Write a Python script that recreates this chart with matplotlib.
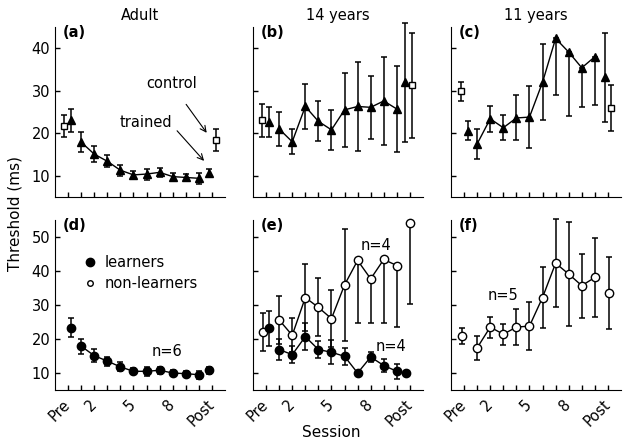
import matplotlib
matplotlib.use("Agg")
import matplotlib.pyplot as plt
from matplotlib.lines import Line2D

# ------------------------
# Data
# ------------------------
sessions = list(range(1, 11))

# (a) adults, trained / control
adult_trained = [17.9, 15.1, 13.4, 11.3, 10.2, 10.4, 10.8, 9.8, 9.6, 9.4]
adult_trained_err = [2.4, 1.9, 1.4, 1.3, 1.0, 1.3, 1.0, 0.8, 0.8, 1.3]
adult_trained_pre, adult_trained_pre_err = 23.0, 2.8
adult_trained_post, adult_trained_post_err = 10.6, 1.0
adult_control = [21.6, 18.4]          # pre, post
adult_control_err = [2.6, 2.5]

# (b) 14 years
y14_trained = [21.0, 18.0, 26.3, 22.8, 20.8, 25.5, 26.3, 26.1, 27.6, 25.7]
y14_trained_err = [3.9, 3.0, 5.2, 4.7, 4.7, 8.7, 10.5, 7.4, 10.4, 10.2]
y14_trained_pre, y14_trained_pre_err = 22.6, 3.6
y14_trained_post, y14_trained_post_err = 32.0, 14.0
y14_control = [23.0, 31.3]
y14_control_err = [3.8, 12.4]

# (c) 11 years
y11_trained = [17.5, 23.4, 21.3, 23.6, 23.8, 32.0, 42.3, 39.1, 35.4, 38.0]
y11_trained_lo = [3.6, 3.0, 3.0, 5.3, 7.2, 9.0, 13.4, 15.0, 9.3, 11.3]
y11_trained_hi = [3.6, 3.0, 3.0, 5.3, 7.2, 9.0, 0.0, 0.0, 0.0, 0.0]
y11_trained_pre, y11_trained_pre_err = 20.6, 2.3
y11_trained_post, y11_trained_post_err = 33.2, 10.5
y11_control = [29.9, 25.9]
y11_control_err = [2.2, 5.4]

# (d) adults, learners
adult_learn = [17.9, 15.1, 13.5, 11.8, 10.5, 10.5, 10.8, 10.0, 9.8, 9.5]
adult_learn_err = [2.2, 2.0, 1.3, 1.3, 0.9, 1.3, 1.0, 0.8, 0.8, 1.2]
adult_learn_pre, adult_learn_pre_err = 23.3, 2.8
adult_learn_post, adult_learn_post_err = 10.8, 1.0

# (e) 14 years, learners / non-learners
y14_learn = [16.9, 15.4, 20.7, 16.9, 16.1, 14.9, 10.0, 14.7, 12.2, 10.5]
y14_learn_err = [3.2, 2.5, 4.0, 2.5, 3.5, 2.5, 0.5, 1.5, 2.0, 2.2]
y14_learn_pre, y14_learn_pre_err = 23.1, 5.2
y14_learn_post, y14_learn_post_err = 10.0, 0.5
y14_nonlearn = [25.6, 21.1, 32.2, 29.3, 26.0, 35.9, 43.1, 37.7, 43.4, 41.6]
y14_nonlearn_lo = [7.0, 5.0, 9.8, 8.5, 8.4, 16.5, 18.5, 13.0, 18.8, 18.0]
y14_nonlearn_hi = [7.0, 5.0, 9.8, 8.5, 8.4, 16.5, 0.0, 0.0, 0.0, 0.0]
y14_nonlearn_pre, y14_nonlearn_pre_err = 22.1, 5.5
y14_nonlearn_post, y14_nonlearn_post_lo = 54.2, 24.0

# (f) 11 years, non-learners
y11_nonlearn = [17.4, 23.5, 21.4, 23.5, 23.8, 32.2, 42.3, 39.1, 35.7, 38.1]
y11_nonlearn_err = [3.5, 3.1, 3.1, 5.4, 7.1, 9.1, 13.0, 15.3, 9.4, 11.6]
y11_nonlearn_pre, y11_nonlearn_pre_err = 20.9, 2.4
y11_nonlearn_post, y11_nonlearn_post_err = 33.5, 10.6

tick_labels = ["Pre", "", "2", "", "", "5", "", "", "8", "", "", "Post"]
col_titles = ["Adult", "14 years", "11 years"]
panel_tags = ["(a)", "(b)", "(c)", "(d)", "(e)", "(f)"]

# ------------------------
# Style
# ------------------------
plt.rcParams["font.family"] = "DejaVu Sans"
FS = 10.5
PRE, POST = 0, 11
bar_kw = dict(fmt="none", ecolor="black", elinewidth=1.1, capsize=2.5,
              capthick=1.1, clip_on=False)


def bars(ax, x, y, lo, hi=None):
    if hi is None:
        hi = lo
    if not isinstance(x, (list, tuple)):
        x, y, lo, hi = [x], [y], [lo], [hi]
    ax.errorbar(x, y, yerr=[lo, hi], **bar_kw)


def marks(ax, x, y, marker, filled, ms, line=False):
    if not isinstance(x, (list, tuple)):
        x, y = [x], [y]
    ax.plot(x, y, color="black", lw=1.0 if line else 0, marker=marker,
            ms=ms, mfc="black" if filled else "white", mec="black",
            mew=1.0, clip_on=False, zorder=3)


def trained_panel(ax, vals, lo, hi, pre, pre_e, post, post_e, ctrl, ctrl_e,
                  pre_off, post_off):
    bars(ax, sessions, vals, lo, hi)
    bars(ax, PRE + pre_off[1], pre, pre_e)
    bars(ax, POST + post_off[0], post, post_e)
    bars(ax, [PRE + pre_off[0], POST + post_off[1]], ctrl, ctrl_e)
    marks(ax, sessions, vals, "^", True, 5.5, line=True)
    marks(ax, [PRE + pre_off[1], POST + post_off[0]], [pre, post], "^", True, 5.5)
    marks(ax, [PRE + pre_off[0], POST + post_off[1]], ctrl, "s", False, 5)


fig = plt.figure(figsize=(6.29, 4.45), dpi=100)
W, H = 170 / 629, 170 / 445
lefts = [55 / 629, 253 / 629, 451 / 629]
bottoms = [1 - 197 / 445, 1 - 390 / 445]
axes = [[fig.add_axes([l, b, W, H]) for l in lefts] for b in bottoms]

for r, row in enumerate(axes):
    for c, ax in enumerate(row):
        ax.set_xlim(-1, 12)
        ax.set_ylim((5, 45) if r == 0 else (5, 55))
        ax.spines["top"].set_visible(False)
        ax.spines["right"].set_visible(False)
        ax.set_xticks(range(12))
        ax.set_yticks([10, 20, 30, 40] if r == 0 else [10, 20, 30, 40, 50])
        ax.tick_params(direction="in", length=3.5, width=1, labelsize=FS)
        if r == 1:
            ax.set_xticklabels(tick_labels, rotation=45, ha="right",
                               rotation_mode="anchor", va="center")
            ax.tick_params(axis="x", pad=9)
        else:
            ax.set_xticklabels([])
        if c > 0:
            ax.set_yticklabels([])
        ax.text(0.045, 0.965, panel_tags[r * 3 + c], transform=ax.transAxes,
                fontsize=FS, va="center", ha="left", fontweight="bold")
        if r == 0:
            ax.set_title(col_titles[c], fontsize=FS, pad=5)

# (a)
ax = axes[0][0]
trained_panel(ax, adult_trained, adult_trained_err, adult_trained_err,
              adult_trained_pre, adult_trained_pre_err,
              adult_trained_post, adult_trained_post_err,
              adult_control, adult_control_err, (-0.35, 0.2), (-0.25, 0.3))
ax.annotate("control", xy=(10.6, 20.1), xytext=(7.9, 31.6), fontsize=FS,
            ha="center", va="center",
            arrowprops=dict(arrowstyle="->", lw=0.8, shrinkA=9, shrinkB=0))
ax.annotate("trained", xy=(10.4, 13.5), xytext=(5.97, 22.5), fontsize=FS,
            ha="center", va="center",
            arrowprops=dict(arrowstyle="->", lw=0.8, shrinkA=2, shrinkB=0,
                            relpos=(1.0, 0.3)))

# (b)
ax = axes[0][1]
trained_panel(ax, y14_trained, y14_trained_err, y14_trained_err,
              y14_trained_pre, y14_trained_pre_err,
              y14_trained_post, y14_trained_post_err,
              y14_control, y14_control_err, (-0.3, 0.25), (-0.35, 0.15))

# (c)
ax = axes[0][2]
trained_panel(ax, y11_trained, y11_trained_lo, y11_trained_hi,
              y11_trained_pre, y11_trained_pre_err,
              y11_trained_post, y11_trained_post_err,
              y11_control, y11_control_err, (-0.25, 0.28), (-0.25, 0.25))

# (d)
ax = axes[1][0]
bars(ax, sessions, adult_learn, adult_learn_err)
bars(ax, [PRE + 0.2, POST - 0.25], [adult_learn_pre, adult_learn_post],
     [adult_learn_pre_err, adult_learn_post_err])
marks(ax, sessions, adult_learn, "o", True, 6, line=True)
marks(ax, [PRE + 0.2, POST - 0.25], [adult_learn_pre, adult_learn_post], "o", True, 6)
ax.text(7.6, 16.3, "n=6", fontsize=FS, ha="center", va="center")
handles = [Line2D([], [], ls="none", marker="o", ms=6, mfc="black", mec="black"),
           Line2D([], [], ls="none", marker="o", ms=4, mfc="white", mec="black")]
ax.legend(handles, ["learners", "non-learners"], loc="upper left",
          bbox_to_anchor=(0.14, 0.83), frameon=False, fontsize=FS,
          handlelength=0.8, handletextpad=0.6, labelspacing=0.45,
          borderaxespad=0)

# (e)
ax = axes[1][1]
bars(ax, sessions, y14_nonlearn, y14_nonlearn_lo, y14_nonlearn_hi)
bars(ax, [PRE - 0.22, POST], [y14_nonlearn_pre, y14_nonlearn_post],
     [y14_nonlearn_pre_err, y14_nonlearn_post_lo], [y14_nonlearn_pre_err, 0])
bars(ax, sessions, y14_learn, y14_learn_err)
bars(ax, [PRE + 0.25, POST - 0.3], [y14_learn_pre, y14_learn_post],
     [y14_learn_pre_err, y14_learn_post_err])
marks(ax, sessions, y14_nonlearn, "o", False, 6, line=True)
marks(ax, [PRE - 0.22, POST], [y14_nonlearn_pre, y14_nonlearn_post], "o", False, 6)
marks(ax, sessions, y14_learn, "o", True, 6, line=True)
marks(ax, [PRE + 0.25, POST - 0.3], [y14_learn_pre, y14_learn_post], "o", True, 6)
ax.text(8.4, 47.5, "n=4", fontsize=FS, ha="center", va="center")
ax.text(9.55, 17.9, "n=4", fontsize=FS, ha="center", va="center")

# (f)
ax = axes[1][2]
bars(ax, sessions, y11_nonlearn, y11_nonlearn_err)
bars(ax, [PRE - 0.17, POST + 0.07], [y11_nonlearn_pre, y11_nonlearn_post],
     [y11_nonlearn_pre_err, y11_nonlearn_post_err])
marks(ax, sessions, y11_nonlearn, "o", False, 6, line=True)
marks(ax, [PRE - 0.17, POST + 0.07], [y11_nonlearn_pre, y11_nonlearn_post], "o", False, 6)
ax.text(3.0, 32.7, "n=5", fontsize=FS, ha="center", va="center")

fig.text(0.024, 0.52, "Threshold (ms)", rotation=90, fontsize=FS + 0.5,
         ha="center", va="center")
fig.text(0.526, 0.029, "Session", fontsize=FS + 0.5, ha="center", va="center")

fig.savefig("out.png", dpi=100)
